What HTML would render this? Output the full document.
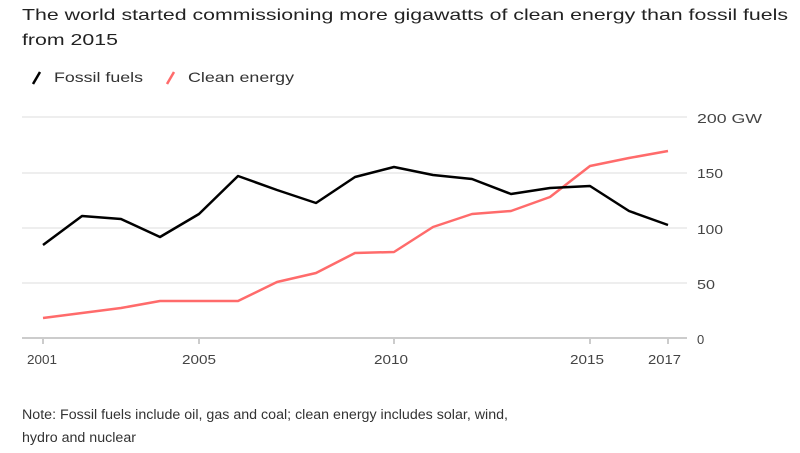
<!DOCTYPE html><html><head><style>
body{margin:0;background:#fff;width:800px;height:448px;overflow:hidden;font-family:"Liberation Sans",sans-serif;}
</style></head><body>
<svg width="800" height="448" xmlns="http://www.w3.org/2000/svg" font-family="Liberation Sans, sans-serif">
<text x="22" y="20" font-size="16" fill="#222" textLength="766" lengthAdjust="spacingAndGlyphs">The world started commissioning more gigawatts of clean energy than fossil fuels</text>
<text x="22" y="45" font-size="16" fill="#222" textLength="96" lengthAdjust="spacingAndGlyphs">from 2015</text>
<line x1="33" y1="84" x2="40" y2="72" stroke="#000" stroke-width="2.5"/>
<text x="54" y="82" font-size="14" fill="#333" textLength="89" lengthAdjust="spacingAndGlyphs">Fossil fuels</text>
<line x1="167" y1="84" x2="174" y2="72" stroke="#ff6b6b" stroke-width="2.5"/>
<text x="188" y="82" font-size="14" fill="#333" textLength="106" lengthAdjust="spacingAndGlyphs">Clean energy</text>
<g stroke="#eee" stroke-width="2">
<line x1="22" y1="117" x2="687" y2="117"/><line x1="22" y1="173" x2="687" y2="173"/>
<line x1="22" y1="228" x2="687" y2="228"/><line x1="22" y1="283" x2="687" y2="283"/>
</g>
<line x1="22" y1="338" x2="687" y2="338" stroke="#ccc" stroke-width="2"/>
<g font-size="13" fill="#444">
<text x="697" y="123" textLength="65" lengthAdjust="spacingAndGlyphs">200 GW</text><text x="697" y="178" textLength="26" lengthAdjust="spacingAndGlyphs">150</text><text x="697" y="234" textLength="26" lengthAdjust="spacingAndGlyphs">100</text><text x="697" y="289" textLength="18" lengthAdjust="spacingAndGlyphs">50</text><text x="697" y="344">0</text>
</g>
<g stroke="#999" stroke-width="1"><line x1="43" y1="339" x2="43" y2="344"/><line x1="199" y1="339" x2="199" y2="344"/><line x1="394" y1="339" x2="394" y2="344"/><line x1="590" y1="339" x2="590" y2="344"/><line x1="668" y1="339" x2="668" y2="344"/></g>
<g font-size="13" fill="#444">
<text x="27" y="364" textLength="30" lengthAdjust="spacingAndGlyphs">2001</text><text x="182" y="364" textLength="34" lengthAdjust="spacingAndGlyphs">2005</text><text x="374" y="364" textLength="34" lengthAdjust="spacingAndGlyphs">2010</text><text x="570" y="364" textLength="34" lengthAdjust="spacingAndGlyphs">2015</text><text x="648" y="364" textLength="33" lengthAdjust="spacingAndGlyphs">2017</text>
</g>
<polyline fill="none" stroke="#ff6b6b" stroke-width="2.5" stroke-linejoin="round" points="43,318 82,313 121,308 160,301 199,301 238,301 277,282 316,273 355,253 394,252 433,227 472,214 511,211 550,197 590,166 629,158 668,151"/>
<polyline fill="none" stroke="#000" stroke-width="2.5" stroke-linejoin="round" points="43,245 82,216 121,219 160,237 199,214 238,176 277,190 316,203 355,177 394,167 433,175 472,179 511,194 550,188 590,186 629,211 668,225"/>
<text x="22" y="419" font-size="13.5" fill="#333" textLength="486" lengthAdjust="spacingAndGlyphs">Note: Fossil fuels include oil, gas and coal; clean energy includes solar, wind,</text>
<text x="22" y="442" font-size="13.5" fill="#333" textLength="114" lengthAdjust="spacingAndGlyphs">hydro and nuclear</text>
</svg>
</body></html>
